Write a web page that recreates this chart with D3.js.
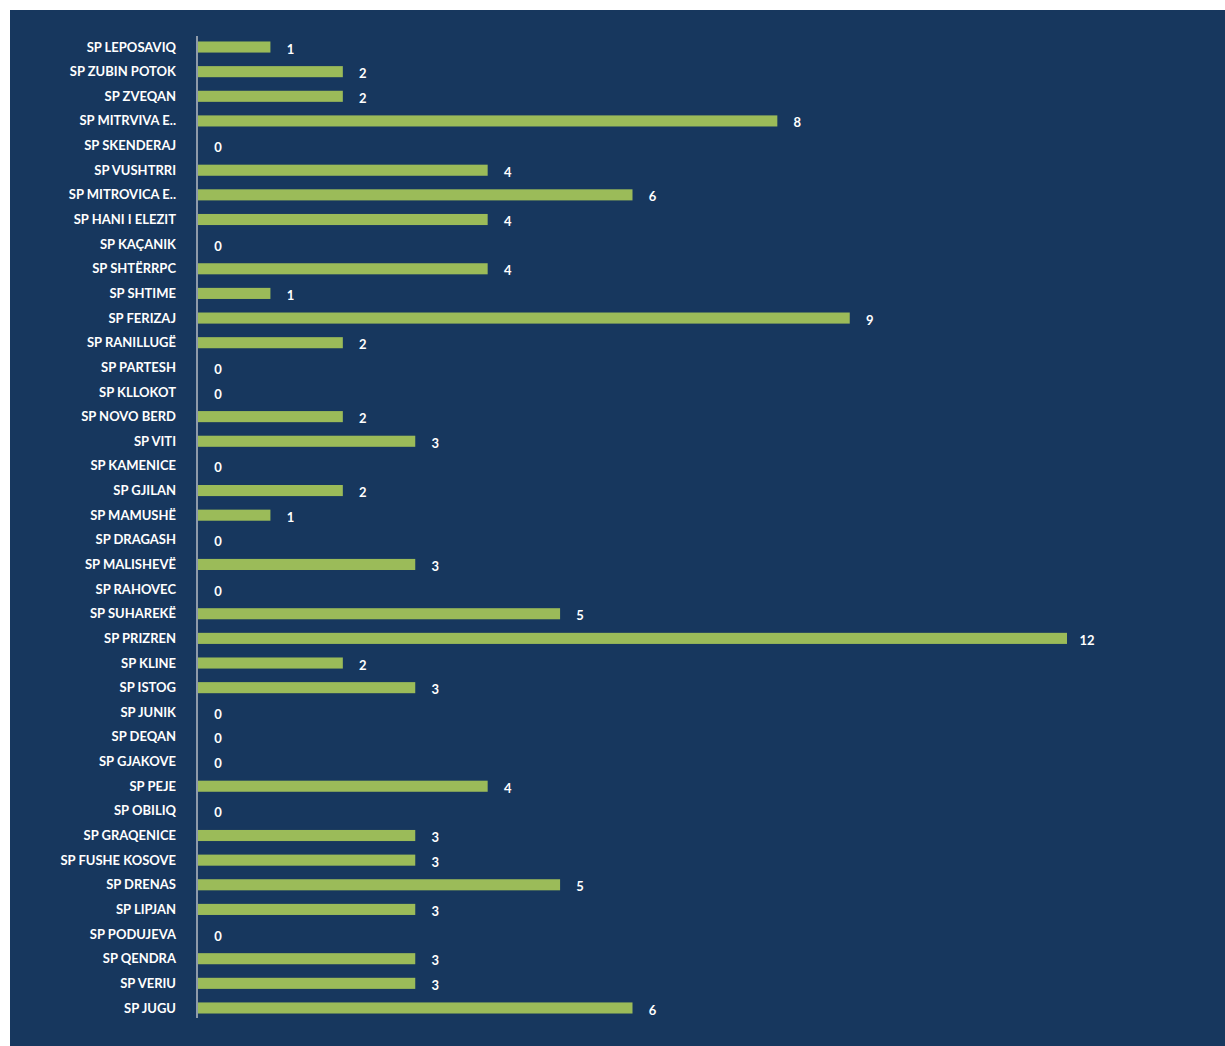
<!DOCTYPE html>
<html><head><meta charset="utf-8">
<script src="https://cdn.jsdelivr.net/npm/d3@7"></script>
<style>
html,body{margin:0;padding:0;background:#fff;}
svg{display:block;}
text{font-family:Lato,"Open Sans",sans-serif;font-weight:700;fill:#fff;}
</style></head>
<body>
<svg id="chart" width="1225" height="1046"></svg>
<script>
const categories = ["SP LEPOSAVIQ","SP ZUBIN POTOK","SP ZVEQAN","SP MITRVIVA E..","SP SKENDERAJ","SP VUSHTRRI","SP MITROVICA E..","SP HANI I ELEZIT","SP KAÇANIK","SP SHTËRRPC","SP SHTIME","SP FERIZAJ","SP RANILLUGË","SP PARTESH","SP KLLOKOT","SP NOVO BERD","SP VITI","SP KAMENICE","SP GJILAN","SP MAMUSHË","SP DRAGASH","SP MALISHEVË","SP RAHOVEC","SP SUHAREKË","SP PRIZREN","SP KLINE","SP ISTOG","SP JUNIK","SP DEQAN","SP GJAKOVE","SP PEJE","SP OBILIQ","SP GRAQENICE","SP FUSHE KOSOVE","SP DRENAS","SP LIPJAN","SP PODUJEVA","SP QENDRA","SP VERIU","SP JUGU"];
const values = [1,2,2,8,0,4,6,4,0,4,1,9,2,0,0,2,3,0,2,1,0,3,0,5,12,2,3,0,0,0,4,0,3,3,5,3,0,3,3,6];

const svg = d3.select("#chart");
svg.append("rect").attr("x",10).attr("y",10).attr("width",1215).attr("height",1036).attr("fill","#17375E");

const x = d3.scaleLinear().domain([0,12]).range([198,1067]);
const y = d3.scaleBand().domain(categories).range([34.7,1020.3]).paddingInner(0.55).paddingOuter(0.275);

svg.selectAll("rect.bar").data(categories).enter().append("rect")
  .attr("class","bar")
  .attr("x",x(0))
  .attr("y",d=>y(d))
  .attr("width",(d,i)=>x(values[i])-x(0))
  .attr("height",y.bandwidth())
  .attr("fill","#9BBB59");

// axis line
svg.append("line").attr("x1",197).attr("x2",197).attr("y1",36).attr("y2",1018)
  .attr("stroke","#8E9AAA").attr("stroke-width",2);

svg.selectAll("text.cat").data(categories).enter().append("text")
  .attr("class","cat")
  .attr("x",176)
  .attr("y",d=>y(d)+y.bandwidth()/2)
  .attr("dy","0.35em")
  .attr("text-anchor","end")
  .style("font-size","13px")
  .text(d=>d);

svg.selectAll("text.val").data(categories).enter().append("text")
  .attr("class","val")
  .attr("x",(d,i)=>x(values[i])+20)
  .attr("y",d=>y(d)+y.bandwidth()/2+2)
  .attr("dy","0.35em")
  .attr("text-anchor","middle")
  .style("font-size","13px")
  .text((d,i)=>values[i]);
</script>
</body></html>
